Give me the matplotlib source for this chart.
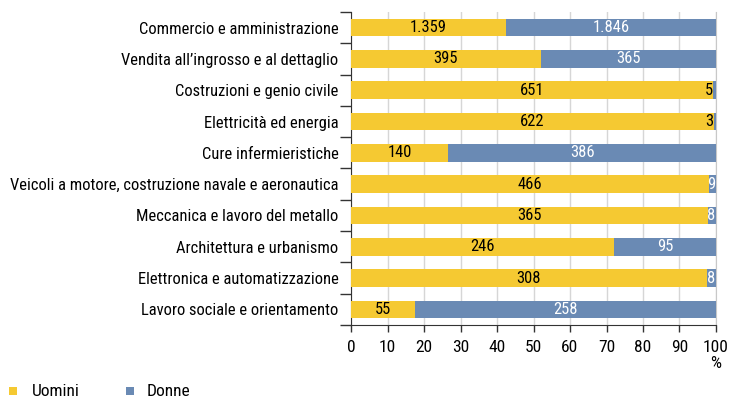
import matplotlib
matplotlib.use("Agg")
import matplotlib.pyplot as plt
from matplotlib import font_manager
from matplotlib.patches import Rectangle

names = {f.name for f in font_manager.fontManager.ttflist}
fam = "DejaVu Sans"
for cand in ["Roboto Condensed", "Archivo Narrow", "PT Sans Narrow", "Barlow Semi Condensed", "Asap Condensed"]:
    if cand in names:
        fam = cand
        break
plt.rcParams['font.family'] = [fam, 'DejaVu Sans']

categories = [
    "Commercio e amministrazione",
    "Vendita all’ingrosso e al dettaglio",
    "Costruzioni e genio civile",
    "Elettricità ed energia",
    "Cure infermieristiche",
    "Veicoli a motore, costruzione navale e aeronautica",
    "Meccanica e lavoro del metallo",
    "Architettura e urbanismo",
    "Elettronica e automatizzazione",
    "Lavoro sociale e orientamento",
]
uomini = [1359, 395, 651, 622, 140, 466, 365, 246, 308, 55]
donne = [1846, 365, 5, 3, 386, 9, 8, 95, 8, 258]
xticks = [0, 10, 20, 30, 40, 50, 60, 70, 80, 90, 100]
series_names = ["Uomini", "Donne"]

yellow = "#F5C932"
blue = "#6A8AB4"

def fmt(v):
    return f"{v:,}".replace(",", ".")

W, H = 729, 400
fig = plt.figure(figsize=(W/100, H/100), dpi=100)
renderer = fig.canvas.get_renderer()
t = fig.text(0, 0, categories[5], fontsize=10)
w = t.get_window_extent(renderer).width
t.remove()
fs = 10 * 326 / w

ax = fig.add_axes([351/W, 1-325/H, (716-351)/W, (325-12)/H])

n = len(categories)
ys = list(range(n))
pm = [m/(m+f)*100 for m, f in zip(uomini, donne)]
pf = [f/(m+f)*100 for m, f in zip(uomini, donne)]
h = 0.56
ax.barh(ys, pm, height=h, color=yellow, zorder=3)
ax.barh(ys, pf, left=pm, height=h, color=blue, zorder=3)

for y, m, f, a, b in zip(ys, uomini, donne, pm, pf):
    ax.text(a/2, y, fmt(m), ha='center', va='center', color='black', fontsize=fs, zorder=4)
    if b > 6:
        ax.text(a + b/2, y, fmt(f), ha='center', va='center', color='white', fontsize=fs, zorder=4)
    elif b > 1.5:
        ax.text(99.9, y, fmt(f), ha='right', va='center', color='white', fontsize=fs, zorder=4)
    else:
        ax.text(a - 0.2, y, fmt(f), ha='right', va='center', color='black', fontsize=fs, zorder=4)

ax.set_xlim(0, 100)
ax.set_ylim(n - 0.5, -0.5)
ax.set_xticks(xticks)
ax.set_xticklabels([str(t) for t in xticks], fontsize=fs * 1.05)
ax.set_yticks([i - 0.5 for i in range(n + 1)])
ax.set_yticklabels([])
ax.set_yticks(ys, minor=True)
ax.set_yticklabels(categories, minor=True, fontsize=fs)
ax.tick_params(axis='y', which='minor', length=0, pad=9)
ax.tick_params(axis='y', which='major', length=8, width=1, color='#333333', direction='out')
ax.tick_params(axis='x', length=5, width=1, color='#333333', pad=6)
ax.grid(axis='x', color='#d6d6d6', linewidth=1, zorder=0)
ax.spines['top'].set_visible(False)
ax.spines['right'].set_color('#c8c8c8')
ax.spines['left'].set_color('#333333')
ax.spines['bottom'].set_color('#333333')

fig.text(716/W, 1-364/H, "%", ha='center', va='center', fontsize=fs * 1.05)

# legend
for (x0, tx), name, col in zip([(9, 32), (126, 147)], series_names, [yellow, blue]):
    fig.patches.append(Rectangle((x0/W, 1-395/H), 8/W, 8/H, transform=fig.transFigure,
                                 facecolor=col, edgecolor='none'))
    fig.text(tx/W, 1-391/H, name, ha='left', va='center', fontsize=fs * 1.05)

fig.savefig("out.png", dpi=100)
